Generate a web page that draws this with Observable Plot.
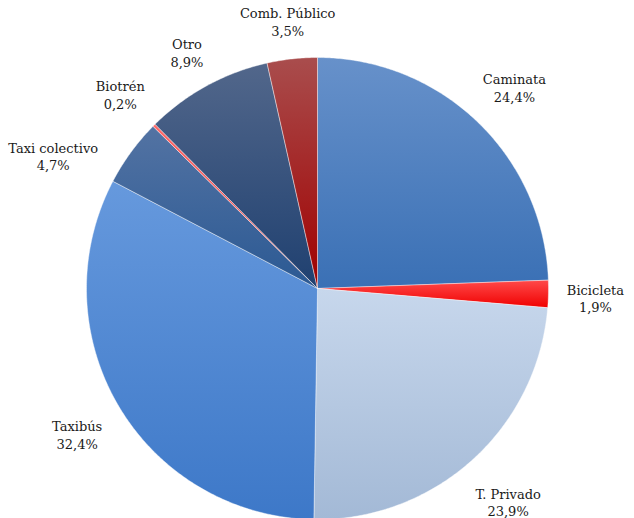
<!DOCTYPE html>
<html><head><meta charset="utf-8">
<script src="https://cdn.jsdelivr.net/npm/d3@7"></script>
<script src="https://cdn.jsdelivr.net/npm/@observablehq/plot@0.6"></script>
<style>body{margin:0;background:#fff;overflow:hidden} svg text{font-family:"DejaVu Serif",serif !important;}</style>
</head><body><div id="chart"></div>
<script>
// Data
const categories = ["Caminata","Bicicleta","T. Privado","Taxibús","Taxi colectivo","Biotrén","Otro","Comb. Público"];
const values = [24.4, 1.9, 23.9, 32.4, 4.7, 0.2, 8.9, 3.5];

// Styles
const gradTop    = ["#6791ca","#ff4a4a","#c7d7ec","#6699dd","#5373a3","#ff6a6a","#52678b","#a94d4d"];
const gradBottom = ["#3a70b5","#f00000","#a3b9d6","#3d78c8","#2b5993","#f04040","#1f4070","#a00000"];

const W = 634, H = 518, cx = 317, cy = 288, R = 231;
const FONT = "DejaVu Serif", FS = 13;

const total = d3.sum(values);
let cum = 0;
const slices = values.map((v, i) => {
  const a0 = cum / total * 2 * Math.PI; cum += v;
  const a1 = cum / total * 2 * Math.PI;
  return {name: categories[i], value: v, i, a0, a1};
});

const pts = [];
for (const s of slices) {
  const n = Math.max(2, Math.ceil((s.a1 - s.a0) / (Math.PI / 360)));
  const f = `url(#grad${s.i})`;
  pts.push({name: s.name, fill: f, x: 0, y: 0});
  for (let k = 0; k <= n; k++) {
    const a = s.a0 + (s.a1 - s.a0) * k / n;
    pts.push({name: s.name, fill: f, x: Math.sin(a), y: Math.cos(a)});
  }
  pts.push({name: s.name, fill: f, x: 0, y: 0});
}

const ctx = document.createElement("canvas").getContext("2d");
ctx.font = `${FS}px "${FONT}"`;
const fmt = v => v.toFixed(1).replace(".", ",") + "%";
const lineH = FS * 1.35;
const gap = 18;
function place(L, ang) {
  const ext = Math.abs(Math.sin(ang)) * L.w / 2 + Math.abs(Math.cos(ang)) * L.h / 2;
  const r = R + gap + ext;
  L.ang = ang; L.px = Math.sin(ang) * r; L.py = -Math.cos(ang) * r;
}
const labels = slices.map(s => {
  const t1 = s.name, t2 = fmt(s.value);
  const L = {text: t1 + "\n" + t2, w: Math.max(ctx.measureText(t1).width, ctx.measureText(t2).width), h: lineH * 2};
  place(L, (s.a0 + s.a1) / 2);
  return L;
});
const overlap = (A, B) => Math.abs(A.px - B.px) < (A.w + B.w) / 2 + 4 && Math.abs(A.py - B.py) < (A.h + B.h) / 2 + 26;
const order = labels.slice().sort((a, b) => b.ang - a.ang);
for (let k = 1; k < order.length; k++) {
  let guard = 0;
  while (order.slice(0, k).some(o => overlap(o, order[k])) && guard++ < 90) place(order[k], order[k].ang - Math.PI / 180);
}
labels.forEach(L => { L.x = L.px / R; L.y = -L.py / R; });

const svg = Plot.plot({
  width: W, height: H, margin: 0,
  x: {domain: [-1, 1], range: [cx - R, cx + R], axis: null},
  y: {domain: [-1, 1], range: [cy + R, cy - R], axis: null},
  color: {type: "identity"},
  style: {background: "#fff", overflow: "visible", fontFamily: FONT},
  marks: [
    Plot.line(pts, {x: "x", y: "y", z: "name", fill: "fill", stroke: "#ffffff", strokeWidth: 0.6, strokeOpacity: 0.7, curve: "linear"}),
    Plot.text(labels, {x: "x", y: "y", text: "text", fontSize: FS, fontFamily: FONT, lineHeight: 1.35, dy: 3, fill: "#1a1a1a", textAnchor: "middle"})
  ]
});

const defs = d3.select(svg).insert("defs", ":first-child");
slices.forEach(s => {
  const g = defs.append("linearGradient").attr("id", `grad${s.i}`)
    .attr("x1", 0).attr("y1", 0).attr("x2", 0).attr("y2", 1);
  g.append("stop").attr("offset", "0%").attr("stop-color", gradTop[s.i]);
  g.append("stop").attr("offset", "100%").attr("stop-color", gradBottom[s.i]);
});

document.getElementById("chart").appendChild(svg);
</script>
</body></html>
